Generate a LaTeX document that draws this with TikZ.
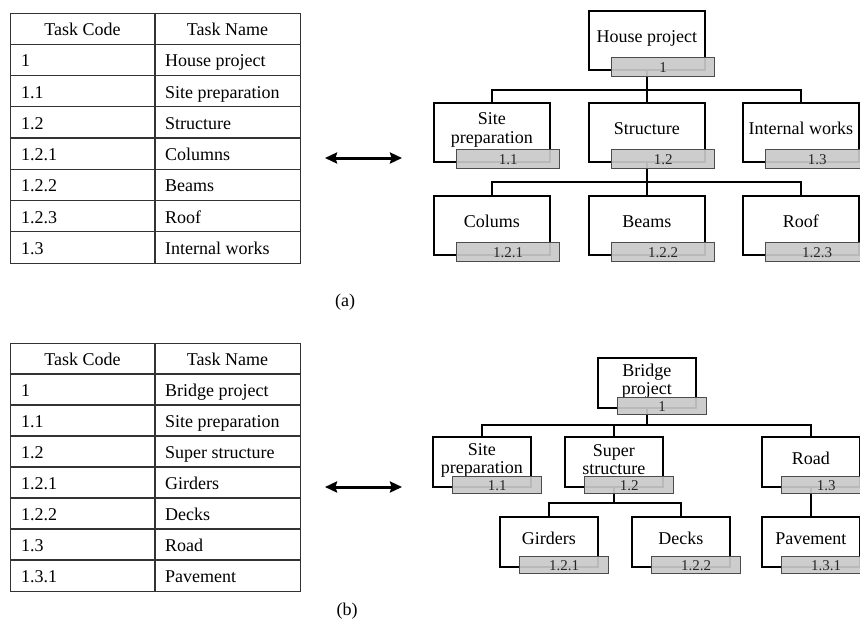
\documentclass[tikz,border=0pt]{standalone}
\usepackage{fontspec}
\setmainfont{Liberation Serif}
\usetikzlibrary{calc,arrows.meta}

\tikzset{
  wbox/.style={draw=black, line width=1.8pt, fill=white, rectangle, inner sep=0pt, anchor=north west},
  gbox/.style={draw=black!70, line width=1.4pt, fill=gray!42, fill opacity=0.92, text opacity=1,
               rectangle, inner sep=0pt, anchor=north west, text=black!85,
               font=\fontsize{15}{15}\selectfont, text height=10pt, text depth=0pt},
  conn/.style={line width=1.6pt, draw=black},
  connthin/.style={line width=1.3pt, draw=black},
  ltxta/.style={font=\fontsize{18}{19.5}\selectfont, inner sep=0pt, align=center},
  ltxtb/.style={font=\fontsize{18}{18}\selectfont, inner sep=0pt, align=center},
  one/.style={text height=13.5pt, text depth=4.5pt},
  tframe/.style={draw=black!80, line width=1.4pt, rectangle, inner sep=0pt, anchor=north west},
  tline/.style={draw=black!80, line width=1.2pt},
  ttxt/.style={font=\fontsize{18}{20}\selectfont, inner sep=0pt, text height=13.5pt, text depth=4.5pt},
  dbl/.style={line width=3pt, {Stealth[length=12pt,width=11pt,inset=1.5pt]}-{Stealth[length=12pt,width=11pt,inset=1.5pt]}},
  caption/.style={font=\fontsize{18}{20}\selectfont, inner sep=0pt}
}

% white box: name, left, top, text style, label
\newcommand{\wbsbox}[5]{%
  \node[wbox, minimum width=\WW pt, minimum height=\WH pt] (#1) at (#2,#3) {};
  \node[#4] (#1t) at ($(#1.north)+(0,\TO)$) {#5};
}
% grey code box: name, code
\newcommand{\wbsgrey}[2]{%
  \node[gbox, minimum width=\GW pt, minimum height=\GH pt] (#1c) at ($(#1.south west)+(\GX,-\GT)$) {#2};
}

\begin{document}
\begin{tikzpicture}[x=1pt,y=-1pt]
\clip (0,0) rectangle (860,619);
\fill[white] (0,0) rectangle (860,619);

% ---------------- Table A ----------------
\node[tframe, minimum width=290pt, minimum height=250pt] (tabA) at (10,13) {};
\foreach \i in {1,...,7}
  \draw[tline] ($(tabA.north west)+(0,{\i*31.25})$) -- ($(tabA.north east)+(0,{\i*31.25})$);
\draw[tline] ($(tabA.north west)+(145,0)$) -- ($(tabA.south west)+(145,0)$);
\node[ttxt] (tAh1) at (82.5,31.1) {Task Code};
\node[ttxt] (tAh2) at (227.5,31.1) {Task Name};
\foreach \c/\n [count=\i] in {1/House project,1.1/Site preparation,1.2/Structure,1.2.1/Columns,1.2.2/Beams,1.2.3/Roof,1.3/Internal works}{
  \node[ttxt, anchor=west] (tAc\i) at (21,{13+31.25*(\i+0.5)+2.5}) {\c};
  \node[ttxt, anchor=west] (tAn\i) at (165,{13+31.25*(\i+0.5)+2.5}) {\n};
}

% ---------------- Table B ----------------
\node[tframe, minimum width=290pt, minimum height=248pt] (tabB) at (10,343) {};
\foreach \i in {1,...,7}
  \draw[tline] ($(tabB.north west)+(0,{\i*31})$) -- ($(tabB.north east)+(0,{\i*31})$);
\draw[tline] ($(tabB.north west)+(145,0)$) -- ($(tabB.south west)+(145,0)$);
\node[ttxt] (tBh1) at (82.5,361) {Task Code};
\node[ttxt] (tBh2) at (227.5,361) {Task Name};
\foreach \c/\n [count=\i] in {1/Bridge project,1.1/Site preparation,1.2/Super structure,1.2.1/Girders,1.2.2/Decks,1.3/Road,1.3.1/Pavement}{
  \node[ttxt, anchor=west] (tBc\i) at (21,{343+31*(\i+0.5)+2.5}) {\c};
  \node[ttxt, anchor=west] (tBn\i) at (165,{343+31*(\i+0.5)+2.5}) {\n};
}

% ---------------- Arrows and captions ----------------
\coordinate (arAl) at (325,158);
\coordinate (arAr) at (402,158);
\draw[dbl] (arAl) -- (arAr);
\coordinate (arBl) at (325,487);
\coordinate (arBr) at (402,487);
\draw[dbl] (arBl) -- (arBr);
\node[caption] (capA) at (345,302) {(a)};
\node[caption] (capB) at (347,611) {(b)};

% ---------------- Tree A ----------------
\def\WW{116}\def\WH{59}\def\GX{23}\def\GT{14}\def\GW{103}\def\GH{19}\def\TO{28}
\wbsbox{hp}{588}{10}{ltxta,one}{House project}
\wbsbox{asite}{433}{102}{ltxta}{Site\\preparation}
\wbsbox{astr}{588}{102}{ltxta,one}{Structure}
\wbsbox{aint}{742}{102}{ltxta,one}{Internal works}
\wbsbox{acol}{433}{195}{ltxta,one}{Colums}
\wbsbox{abeam}{588}{195}{ltxta,one}{Beams}
\wbsbox{aroof}{742}{195}{ltxta,one}{Roof}

\coordinate (abus1) at (646,90);
\coordinate (abus2) at (646,182);
\draw[conn] (hp.south) -- (astr.north);
\draw[conn] (hp.south |- abus1) -| (asite.north);
\draw[conn] (hp.south |- abus1) -| (aint.north);
\draw[connthin] (astr.south) -- (abeam.north);
\draw[connthin] (astr.south |- abus2) -| (acol.north);
\draw[connthin] (astr.south |- abus2) -| (aroof.north);

\wbsgrey{hp}{1}
\wbsgrey{asite}{1.1}
\wbsgrey{astr}{1.2}
\wbsgrey{aint}{1.3}
\wbsgrey{acol}{1.2.1}
\wbsgrey{abeam}{1.2.2}
\wbsgrey{aroof}{1.2.3}

% ---------------- Tree B ----------------
\def\WW{98}\def\WH{50}\def\GX{20}\def\GT{12}\def\GW{89}\def\GH{17}\def\TO{24}
\wbsbox{bp}{597}{357}{ltxtb}{Bridge\\project}
\wbsbox{bsite}{432}{436}{ltxtb}{Site\\preparation}
\wbsbox{bsup}{564}{436}{ltxtb}{Super\\structure}
\wbsbox{broad}{761}{436}{ltxtb,one}{Road}
\wbsbox{bgird}{499}{516}{ltxtb,one}{Girders}
\wbsbox{bdeck}{631}{516}{ltxtb,one}{Decks}
\wbsbox{bpave}{761}{516}{ltxtb,one}{Pavement}

\coordinate (bbus1) at (646,425);
\coordinate (bbus2) at (613,503);
\draw[conn] (bp.south) -- (bp.south |- bbus1) -| (bsite.north);
\draw[conn] (bp.south |- bbus1) -| (bsup.north);
\draw[conn] (bp.south |- bbus1) -| (broad.north);
\draw[connthin] (bsup.south) -- (bsup.south |- bbus2) -| (bgird.north);
\draw[connthin] (bsup.south |- bbus2) -| (bdeck.north);
\draw[connthin] (broad.south) -- (bpave.north);

\wbsgrey{bp}{1}
\wbsgrey{bsite}{1.1}
\wbsgrey{bsup}{1.2}
\wbsgrey{broad}{1.3}
\wbsgrey{bgird}{1.2.1}
\wbsgrey{bdeck}{1.2.2}
\wbsgrey{bpave}{1.3.1}
\end{tikzpicture}
\end{document}
